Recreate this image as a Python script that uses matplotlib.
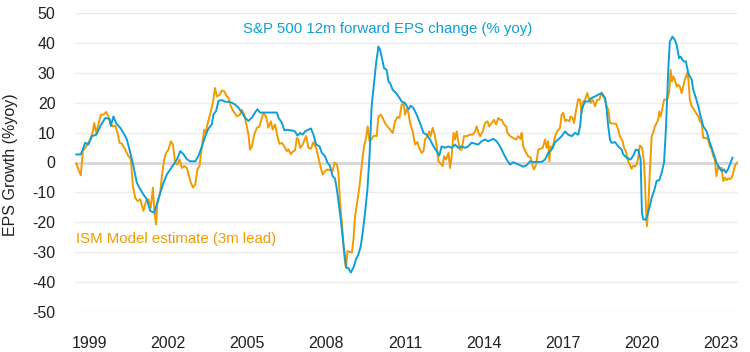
import matplotlib
matplotlib.use("Agg")
import matplotlib.pyplot as plt
import numpy as np

# S&P 500 12m forward EPS change (% yoy)
sp_dates = [1998.51, 1998.68, 1998.85, 1998.97, 1999.10, 1999.27, 1999.42, 1999.61, 1999.77, 1999.82,
            1999.92, 2000.03, 2000.18, 2000.30, 2000.43, 2000.56, 2000.68, 2000.81, 2000.94, 2001.06,
            2001.19, 2001.32, 2001.47, 2001.57, 2001.70, 2001.82, 2001.95, 2002.08, 2002.20, 2002.33,
            2002.46, 2002.58, 2002.71, 2002.84, 2003.03, 2003.15, 2003.28, 2003.41, 2003.53, 2003.66,
            2003.72, 2003.82, 2003.91, 2004.04, 2004.16, 2004.29, 2004.42, 2004.54, 2004.67, 2004.80,
            2004.92, 2005.05, 2005.18, 2005.30, 2005.39, 2005.49, 2005.75, 2006.00, 2006.13, 2006.19,
            2006.32, 2006.41, 2006.51, 2006.63, 2006.76, 2006.82, 2006.91, 2007.01, 2007.11, 2007.20,
            2007.33, 2007.42, 2007.52, 2007.62, 2007.75, 2007.84, 2007.96, 2008.05, 2008.15, 2008.25,
            2008.34, 2008.41, 2008.51, 2008.60, 2008.68, 2008.76, 2008.85, 2008.94, 2009.04, 2009.14,
            2009.23, 2009.32, 2009.39, 2009.48, 2009.57, 2009.65, 2009.73, 2009.82, 2009.90, 2009.99,
            2010.05, 2010.11, 2010.20, 2010.30, 2010.37, 2010.43, 2010.53, 2010.66, 2010.79, 2010.87,
            2011.00, 2011.13, 2011.21, 2011.32, 2011.44, 2011.57, 2011.70, 2011.82, 2011.95, 2012.08,
            2012.20, 2012.30, 2012.39, 2012.52, 2012.65, 2012.77, 2012.90, 2013.02, 2013.15, 2013.28,
            2013.40, 2013.53, 2013.66, 2013.78, 2013.91, 2014.04, 2014.16, 2014.35, 2014.48, 2014.61,
            2014.73, 2014.86, 2014.99, 2015.11, 2015.24, 2015.37, 2015.49, 2015.62, 2015.75, 2015.87,
            2016.00, 2016.19, 2016.32, 2016.44, 2016.57, 2016.70, 2016.82, 2016.95, 2017.08, 2017.20,
            2017.33, 2017.46, 2017.58, 2017.65, 2017.71, 2017.84, 2017.96, 2018.09, 2018.22, 2018.34,
            2018.47, 2018.60, 2018.66, 2018.72, 2018.79, 2018.85, 2018.98, 2019.10, 2019.23, 2019.29,
            2019.42, 2019.57, 2019.67, 2019.77, 2019.86, 2019.95, 2020.00, 2020.05, 2020.13, 2020.20,
            2020.30, 2020.37, 2020.46, 2020.56, 2020.66, 2020.75, 2020.84, 2020.91, 2021.00, 2021.06,
            2021.16, 2021.25, 2021.32, 2021.41, 2021.47, 2021.54, 2021.60, 2021.67, 2021.76, 2021.82,
            2021.89, 2021.95, 2022.05, 2022.14, 2022.23, 2022.33, 2022.46, 2022.56, 2022.65, 2022.73,
            2022.83, 2022.94, 2023.03, 2023.11, 2023.19, 2023.28, 2023.37, 2023.44]
sp_values = [2.7, 2.7, 6.6, 6.0, 8.8, 9.3, 12.1, 14.9, 14.6, 12.2,
             15.4, 13.0, 11.6, 9.9, 7.7, 3.2, -1.2, -6.8, -9.0, -10.7,
             -12.3, -16.2, -16.8, -14.0, -10.1, -6.8, -4.0, -2.3, -0.7, 1.0,
             3.8, 2.8, 1.1, 0.4, 0.4, 2.2, 5.3, 8.9, 11.3, 12.8,
             16.1, 17.2, 20.6, 20.9, 20.3, 20.3, 20.0, 19.4, 18.3, 16.7,
             15.0, 13.9, 15.0, 16.7, 17.8, 16.7, 16.7, 16.7, 16.7, 15.0,
             13.3, 10.8, 10.9, 10.8, 10.6, 10.4, 9.0, 9.9, 9.3, 10.4,
             11.0, 11.4, 9.3, 6.0, 5.4, 3.2, 2.1, 0.0, -1.2, -4.6,
             -5.4, -9.0, -15.7, -22.3, -29.0, -35.1, -35.4, -36.8, -35.1, -32.3,
             -30.7, -27.9, -23.4, -16.8, -9.0, 2.1, 18.8, 26.6, 33.2, 38.8,
             37.7, 35.4, 31.6, 31.0, 27.1, 26.6, 24.3, 23.2, 21.6, 20.4,
             19.9, 17.7, 19.0, 18.2, 16.0, 13.2, 9.9, 9.3, 7.7, 5.4,
             3.8, 2.3, 5.4, 4.9, 5.4, 4.9, 6.0, 4.9, 5.4, 4.9,
             5.4, 6.6, 6.3, 6.0, 7.1, 7.7, 7.1, 7.9, 7.1, 5.4,
             3.2, 1.0, -0.7, 0.1, -0.4, -0.9, -1.4, -0.9, 0.4, 0.1,
             0.2, 0.2, 1.0, 3.2, 4.3, 6.8, 7.7, 8.8, 10.4, 9.3,
             8.8, 9.9, 9.3, 12.1, 17.7, 20.4, 20.4, 21.6, 22.1, 22.7,
             23.2, 21.6, 17.7, 12.1, 7.4, 6.6, 6.8, 5.4, 4.3, 2.7,
             1.6, 1.0, 2.3, 4.3, 4.1, 1.0, -16.8, -19.0, -19.2, -17.9,
             -14.6, -11.8, -9.6, -6.1, -5.9, -3.4, 0.0, 11.0, 31.0, 40.4,
             42.1, 41.0, 39.3, 34.9, 35.4, 34.3, 33.8, 33.8, 29.9, 28.8,
             27.7, 24.3, 21.6, 18.8, 15.4, 12.1, 10.4, 7.1, 4.9, 2.8,
             0.0, -1.8, -2.9, -2.3, -3.4, -2.1, 0.0, 1.6]

# ISM Model estimate (3m lead)
ism_dates = [1998.51, 1998.59, 1998.68, 1998.76, 1998.89, 1999.04, 1999.14, 1999.19, 1999.27, 1999.35,
             1999.44, 1999.54, 1999.65, 1999.73, 1999.80, 1999.90, 1999.99, 2000.08, 2000.15, 2000.24,
             2000.37, 2000.49, 2000.58, 2000.66, 2000.75, 2000.84, 2000.94, 2001.06, 2001.16, 2001.25,
             2001.34, 2001.42, 2001.48, 2001.54, 2001.59, 2001.70, 2001.76, 2001.85, 2001.92, 2002.01,
             2002.10, 2002.18, 2002.27, 2002.35, 2002.43, 2002.52, 2002.61, 2002.71, 2002.84, 2002.94,
             2003.03, 2003.11, 2003.19, 2003.28, 2003.37, 2003.43, 2003.49, 2003.59, 2003.70, 2003.78,
             2003.85, 2003.95, 2004.04, 2004.13, 2004.23, 2004.29, 2004.38, 2004.48, 2004.61, 2004.73,
             2004.80, 2004.89, 2004.96, 2005.05, 2005.11, 2005.18, 2005.27, 2005.37, 2005.47, 2005.56,
             2005.62, 2005.72, 2005.81, 2005.90, 2005.97, 2006.06, 2006.15, 2006.23, 2006.32, 2006.41,
             2006.51, 2006.57, 2006.66, 2006.73, 2006.82, 2006.89, 2006.95, 2007.01, 2007.11, 2007.24,
             2007.33, 2007.42, 2007.52, 2007.62, 2007.71, 2007.80, 2007.87, 2007.96, 2008.05, 2008.15,
             2008.25, 2008.32, 2008.41, 2008.47, 2008.53, 2008.60, 2008.66, 2008.72, 2008.76, 2008.81,
             2008.89, 2008.98, 2009.04, 2009.10, 2009.16, 2009.27, 2009.35, 2009.44, 2009.52, 2009.58,
             2009.65, 2009.73, 2009.82, 2009.92, 2009.99, 2010.08, 2010.15, 2010.24, 2010.33, 2010.43,
             2010.53, 2010.62, 2010.71, 2010.79, 2010.87, 2010.94, 2011.00, 2011.06, 2011.13, 2011.19,
             2011.29, 2011.38, 2011.47, 2011.54, 2011.63, 2011.70, 2011.76, 2011.85, 2011.92, 2011.97,
             2012.05, 2012.14, 2012.20, 2012.27, 2012.35, 2012.43, 2012.48, 2012.56, 2012.65, 2012.71,
             2012.77, 2012.84, 2012.90, 2012.96, 2013.03, 2013.09, 2013.15, 2013.24, 2013.34, 2013.47,
             2013.57, 2013.66, 2013.72, 2013.79, 2013.85, 2013.95, 2014.04, 2014.13, 2014.20, 2014.29,
             2014.38, 2014.46, 2014.54, 2014.61, 2014.67, 2014.76, 2014.84, 2014.89, 2014.99, 2015.11,
             2015.22, 2015.30, 2015.39, 2015.43, 2015.49, 2015.60, 2015.68, 2015.77, 2015.85, 2015.90,
             2015.98, 2016.06, 2016.15, 2016.23, 2016.32, 2016.38, 2016.44, 2016.48, 2016.53, 2016.61,
             2016.70, 2016.78, 2016.89, 2016.95, 2017.01, 2017.08, 2017.14, 2017.24, 2017.29, 2017.37,
             2017.42, 2017.49, 2017.58, 2017.65, 2017.71, 2017.77, 2017.84, 2017.92, 2018.00, 2018.05,
             2018.13, 2018.22, 2018.30, 2018.38, 2018.47, 2018.53, 2018.60, 2018.66, 2018.72, 2018.79,
             2018.89, 2019.01, 2019.10, 2019.16, 2019.27, 2019.32, 2019.39, 2019.48, 2019.54, 2019.61,
             2019.67, 2019.73, 2019.80, 2019.86, 2019.92, 2020.01, 2020.08, 2020.11, 2020.15, 2020.19,
             2020.24, 2020.30, 2020.37, 2020.43, 2020.49, 2020.56, 2020.62, 2020.66, 2020.71, 2020.77,
             2020.84, 2020.91, 2020.98, 2021.04, 2021.09, 2021.14, 2021.19, 2021.25, 2021.32, 2021.38,
             2021.44, 2021.51, 2021.57, 2021.63, 2021.72, 2021.76, 2021.82, 2021.89, 2021.98, 2022.05,
             2022.14, 2022.20, 2022.27, 2022.33, 2022.43, 2022.52, 2022.58, 2022.65, 2022.71, 2022.77,
             2022.83, 2022.90, 2022.96, 2023.03, 2023.09, 2023.15, 2023.22, 2023.28, 2023.34, 2023.41,
             2023.47, 2023.53, 2023.59, 2023.63]
ism_values = [-0.3, -2.3, -4.3, 3.8, 5.4, 7.7, 10.4, 13.2, 9.9, 12.7,
              16.0, 16.0, 16.9, 15.4, 13.2, 12.1, 12.3, 9.9, 6.6, 6.3,
              4.3, 2.1, 1.2, -7.9, -11.8, -12.9, -12.3, -16.2, -12.9, -12.3,
              -15.1, -8.4, -16.8, -20.7, -13.4, -10.1, -4.6, 1.0, 3.2, 4.3,
              7.1, 6.0, -0.3, -0.7, 1.0, -1.8, -1.2, -1.8, -6.2, -8.4,
              -7.3, -2.3, -1.2, 5.4, 11.0, 9.9, 12.7, 16.0, 19.9, 24.9,
              22.1, 22.6, 24.1, 23.8, 22.1, 21.6, 18.8, 17.1, 15.4, 16.0,
              17.7, 16.0, 13.2, 9.3, 4.3, 5.4, 9.3, 11.6, 12.1, 14.9,
              16.6, 15.4, 11.6, 13.8, 11.0, 12.7, 8.8, 6.2, 6.6, 5.4,
              3.8, 4.4, 2.8, 3.6, 4.1, 8.2, 7.7, 4.9, 6.0, 8.8,
              4.9, 4.6, 6.8, 4.9, 1.6, -1.8, -4.0, -2.9, -2.3, -2.6,
              -2.9, 0.0, -0.7, -3.4, -13.4, -20.1, -27.9, -33.4, -35.1, -29.6,
              -29.9, -30.1, -25.7, -17.9, -14.6, -7.9, -1.2, 5.4, 8.2, 12.1,
              7.1, 7.9, 9.0, 8.8, 15.4, 16.0, 14.9, 13.2, 12.1, 11.0,
              9.9, 13.8, 15.2, 14.9, 19.3, 19.7, 16.0, 17.7, 16.6, 13.2,
              10.4, 6.0, 6.8, 4.9, 3.2, 3.8, 7.7, 8.8, 10.4, 8.8,
              11.6, 8.8, 5.4, 0.4, -0.3, -1.2, 2.1, 1.0, 3.2, -1.8,
              2.1, 9.9, 7.7, 10.4, 6.6, 4.3, 4.3, 8.8, 8.8, 9.3,
              9.3, 10.4, 12.1, 9.9, 8.8, 10.4, 13.2, 13.8, 12.1, 13.2,
              14.3, 12.7, 14.9, 14.3, 14.3, 12.7, 12.1, 9.9, 8.8, 8.2,
              7.7, 8.8, 7.9, 9.9, 5.4, 3.2, 2.1, 1.6, -1.2, -2.3,
              -0.7, 4.3, 4.6, 4.9, 7.7, 4.9, 7.1, 0.4, 5.4, 4.9,
              8.8, 10.4, 11.6, 16.0, 16.6, 13.8, 14.3, 13.8, 15.4, 14.9,
              13.2, 17.1, 21.2, 21.0, 16.6, 20.4, 21.0, 23.2, 21.0, 19.9,
              21.0, 18.8, 21.0, 21.0, 23.4, 22.1, 21.0, 18.8, 17.7, 13.2,
              13.0, 13.0, 11.0, 8.8, 7.1, 4.9, 3.8, 0.4, -0.7, -2.1,
              -1.0, -1.4, -0.7, 1.6, 5.7, 4.9, 0.0, -5.7, -14.6, -21.3,
              -14.6, -3.4, 8.8, 9.9, 12.1, 13.2, 14.3, 17.1, 15.4, 17.7,
              21.0, 21.0, 21.6, 23.8, 31.0, 27.1, 28.8, 27.7, 25.4, 26.0,
              25.4, 23.2, 25.4, 27.7, 29.9, 28.3, 21.0, 18.8, 17.7, 16.6,
              15.5, 13.8, 13.2, 8.2, 8.2, 7.6, 5.4, 4.3, 2.1, 1.0,
              -4.6, -1.2, -1.8, -1.8, -6.2, -5.1, -5.9, -5.3, -5.6, -5.1,
              -3.4, -1.2, -0.3, 0.0]

year_ticks = [1999, 2002, 2005, 2008, 2011, 2014, 2017, 2020, 2023]
y_ticks = [50, 40, 30, 20, 10, 0, -10, -20, -30, -40, -50]

BLUE = "#0E9FD8"
ORANGE = "#F29B00"
FONT = "Liberation Sans"

plt.rcParams['font.family'] = [FONT, 'DejaVu Sans']

fig = plt.figure(figsize=(7.5, 3.52), dpi=100)
ax = fig.add_axes([75 / 750, 1 - 312 / 352, (738 - 75) / 750, (312 - 13) / 352])

for v in y_ticks:
    if v == 0:
        ax.axhline(v, color="#d6d6d6", lw=2.0, zorder=1)
    else:
        ax.axhline(v, color="#ececec", lw=1.0, zorder=1)

ax.plot(ism_dates, ism_values, color=ORANGE, lw=1.4, zorder=3)
ax.plot(sp_dates, sp_values, color=BLUE, lw=1.4, zorder=4)

ax.set_xlim(1998.46, 2023.65)
ax.set_ylim(-50, 50)
ax.set_yticks(y_ticks)
ax.set_yticklabels([str(v) for v in y_ticks])
ax.set_xticks(year_ticks)
ax.set_xticklabels([str(y) for y in year_ticks])
ax.tick_params(axis="both", length=0, labelsize=11.5, colors="#222222")
ax.tick_params(axis="y", pad=14)
ax.tick_params(axis="x", pad=17)
for s in ax.spines.values():
    s.set_visible(False)
ax.grid(False)

fig.text(11 / 750, 1 - 165 / 352, "EPS Growth (%yoy)", rotation=90, fontsize=11.5,
         color="#222222", ha="center", va="center")

ax.text(2010.34, 44.8, "S&P 500 12m forward EPS change (% yoy)", color=BLUE,
        fontsize=10.8, ha="center", va="center")
ax.text(1998.48, -25.7, "ISM Model estimate (3m lead)", color=ORANGE,
        fontsize=10.8, ha="left", va="center")

fig.savefig("out.png", dpi=100)
